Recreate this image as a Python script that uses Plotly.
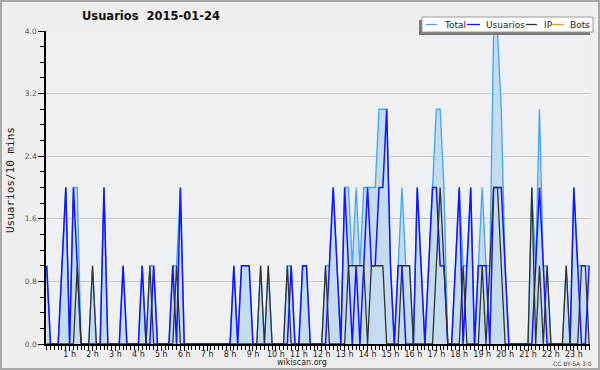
import plotly.graph_objects as go

# 10-minute slots of the day (0 = 00:00)
slots = list(range(143))

usuarios = [
    1, 0, 0, 0, 1, 2, 0, 2, 1, 0, 0, 0,
    0, 0, 0, 2, 0, 0, 0, 0, 1, 0, 0, 0,
    0, 1, 0, 0, 1, 0, 0, 0, 0, 1, 0, 2,
    0, 0, 0, 0, 0, 0, 0, 0, 0, 0, 0, 0,
    0, 1, 0, 1, 1, 1, 0, 0, 0, 0, 0, 0,
    0, 0, 0, 0, 1, 0, 0, 1, 1, 0, 0, 0,
    0, 0, 1, 2, 1, 0, 2, 1, 0, 1, 0, 1,
    2, 1, 1, 2, 2, 3, 1, 0, 1, 1, 0, 0,
    0, 2, 1, 0, 1, 2, 2, 1, 1, 0, 0, 1,
    2, 0, 1, 2, 0, 1, 1, 1, 0, 2, 2, 2,
    1, 0, 0, 0, 0, 0, 0, 0, 1, 2, 1, 0,
    0, 0, 0, 0, 0, 0, 2, 1, 0, 0, 1,
]

ip = [
    0, 0, 0, 0, 0, 0, 0, 0, 1, 0, 0, 0,
    1, 0, 0, 0, 0, 0, 0, 0, 0, 0, 0, 0,
    0, 0, 0, 1, 0, 0, 0, 0, 0, 0, 1, 0,
    0, 0, 0, 0, 0, 0, 0, 0, 0, 0, 0, 0,
    0, 0, 0, 0, 0, 0, 0, 0, 1, 0, 1, 0,
    0, 0, 0, 1, 0, 0, 0, 0, 0, 0, 0, 0,
    0, 1, 0, 0, 0, 0, 0, 1, 1, 1, 1, 1,
    0, 1, 1, 1, 1, 0, 0, 0, 0, 1, 1, 1,
    0, 0, 0, 0, 0, 0, 1, 2, 1, 0, 0, 0,
    0, 1, 0, 0, 0, 0, 1, 0, 1, 2, 2, 1,
    0, 0, 0, 0, 0, 0, 0, 2, 0, 1, 0, 1,
    0, 0, 0, 0, 1, 0, 0, 0, 1, 1, 0,
]

total = [
    1, 0, 0, 0, 1, 2, 0, 2, 2, 0, 0, 0,
    1, 0, 0, 2, 0, 0, 0, 0, 1, 0, 0, 0,
    0, 1, 0, 1, 1, 0, 0, 0, 0, 1, 1, 2,
    0, 0, 0, 0, 0, 0, 0, 0, 0, 0, 0, 0,
    0, 1, 0, 1, 1, 1, 0, 0, 1, 0, 1, 0,
    0, 0, 0, 1, 1, 0, 0, 1, 1, 0, 0, 0,
    0, 1, 1, 2, 1, 0, 2, 2, 1, 2, 1, 2,
    2, 2, 2, 3, 3, 3, 1, 0, 1, 2, 1, 1,
    0, 2, 1, 0, 1, 2, 3, 3, 2, 0, 0, 1,
    2, 1, 1, 2, 0, 1, 2, 1, 1, 4, 4, 3,
    1, 0, 0, 0, 0, 0, 0, 2, 1, 3, 1, 1,
    0, 0, 0, 0, 1, 0, 2, 1, 1, 1, 1,
]

bots = [0] * 143

hour_ticks = [6, 12, 18, 24, 30, 36, 42, 48, 54, 60, 66, 72,
              78, 84, 90, 96, 102, 108, 114, 120, 126, 132, 138]
hour_labels = ["1 h", "2 h", "3 h", "4 h", "5 h", "6 h", "7 h", "8 h",
               "9 h", "10 h", "11 h", "12 h", "13 h", "14 h", "15 h",
               "16 h", "17 h", "18 h", "19 h", "20 h", "21 h", "22 h", "23 h"]

legend_names = ["Total", "Usuarios", "IP", "Bots"]
colors = {"Total": "#44a4f4", "Usuarios": "#1414ff", "IP": "#333333", "Bots": "#ff9900"}

W, H = 600, 370
L, R, T, B = 46, 10, 31, 26
PW, PH = W - L - R, H - T - B


def px(x):
    return (x - L) / PW


def py(y):
    return (H - B - y) / PH


fig = go.Figure()
fig.add_trace(go.Scatter(x=slots, y=bots, mode="lines", name="Bots",
                         line=dict(color=colors["Bots"], width=1.3)))
fig.add_trace(go.Scatter(x=slots, y=total, mode="lines", name="Total",
                         fill="tozeroy", fillcolor="#c5dbef",
                         line=dict(color=colors["Total"], width=1.3)))
fig.add_trace(go.Scatter(x=slots, y=usuarios, mode="lines", name="Usuarios",
                         line=dict(color=colors["Usuarios"], width=1.5)))
fig.add_trace(go.Scatter(x=slots, y=ip, mode="lines", name="IP",
                         line=dict(color=colors["IP"], width=1.3)))

x0 = -0.7 / 3.82
x1 = x0 + PW / 3.82

fig.update_layout(
    width=W, height=H,
    margin=dict(l=L, r=R, t=T, b=B, pad=0),
    paper_bgcolor="#efefef",
    plot_bgcolor="#eef0f3",
    showlegend=False,
    font=dict(family="DejaVu Sans", color="#222222"),
    xaxis=dict(
        range=[x0, x1], tickmode="array", tickvals=hour_ticks, ticktext=hour_labels,
        ticks="outside", ticklen=5, tickwidth=1, tickcolor="black",
        ticklabelstandoff=-3,
        showline=True, linecolor="black", linewidth=1.5,
        showgrid=False, zeroline=False,
        tickfont=dict(size=8, color="#222222", family="DejaVu Sans"),
        minor=dict(dtick=1, tick0=0, ticks="outside", ticklen=4,
                   tickcolor="black", tickwidth=1, showgrid=False),
    ),
    yaxis=dict(
        range=[0, 4], tick0=0, dtick=0.8, tickformat=".1f",
        ticks="outside", ticklen=6, tickwidth=1, tickcolor="black",
        showline=True, linecolor="black", linewidth=1.5,
        showgrid=True, gridcolor="#c9c9c9", gridwidth=1, zeroline=False,
        tickfont=dict(size=7.5, color="#555555", family="DejaVu Sans"),
        minor=dict(dtick=0.2, tick0=0, ticks="outside", ticklen=4,
                   tickcolor="black", tickwidth=1, showgrid=False),
    ),
)

shapes = []
# outer border
shapes.append(dict(type="rect", xref="paper", yref="paper",
                   x0=px(1), x1=px(599), y0=py(1), y1=py(369),
                   line=dict(color="#a9a9a9", width=2), fillcolor="rgba(0,0,0,0)",
                   layer="above"))
# legend shadow and box
shapes.append(dict(type="rect", xref="paper", yref="paper",
                   x0=px(419), x1=px(590), y0=py(20), y1=py(35),
                   line=dict(width=0), fillcolor="#7a7a7a", layer="above"))
shapes.append(dict(type="rect", xref="paper", yref="paper",
                   x0=px(422), x1=px(593), y0=py(17), y1=py(32),
                   line=dict(color="#9a9a9a", width=1), fillcolor="white", layer="above"))

seg = [(426, 437, 442), (467, 480, 484), (526, 537, 541.5), (552, 564, 568)]
annotations = []
for name, (a, b, t) in zip(legend_names, seg):
    shapes.append(dict(type="line", xref="paper", yref="paper",
                       x0=px(a), x1=px(b), y0=py(24.5), y1=py(24.5),
                       line=dict(color=colors[name], width=1.3), layer="above"))
    annotations.append(dict(text=name, xref="paper", yref="paper",
                            x=px(t), y=py(24.5), xanchor="left", yanchor="middle",
                            showarrow=False,
                            font=dict(size=9, color="#222222", family="DejaVu Sans")))

annotations.append(dict(text="Usuarios  2015-01-24", xref="paper", yref="paper",
                        x=px(151), y=py(16), xanchor="center", yanchor="middle",
                        showarrow=False,
                        font=dict(size=11.5, color="#111111", family="DejaVu Sans",
                                  weight="bold")))
annotations.append(dict(text="Usuarios/10 mins", xref="paper", yref="paper",
                        x=px(10), y=py(180), xanchor="center", yanchor="middle",
                        textangle=-90, showarrow=False,
                        font=dict(size=11, color="#222222", family="DejaVu Sans Mono")))
annotations.append(dict(text="wikiscan.org", xref="paper", yref="paper",
                        x=px(302), y=py(362.5), xanchor="center", yanchor="middle",
                        showarrow=False,
                        font=dict(size=8, color="#222222", family="DejaVu Sans")))
annotations.append(dict(text="CC BY-SA 3.0", xref="paper", yref="paper",
                        x=px(572), y=py(363.5), xanchor="center", yanchor="middle",
                        showarrow=False,
                        font=dict(size=6, color="#444444", family="DejaVu Sans")))

fig.update_layout(shapes=shapes, annotations=annotations)
fig.write_html("out.html")
